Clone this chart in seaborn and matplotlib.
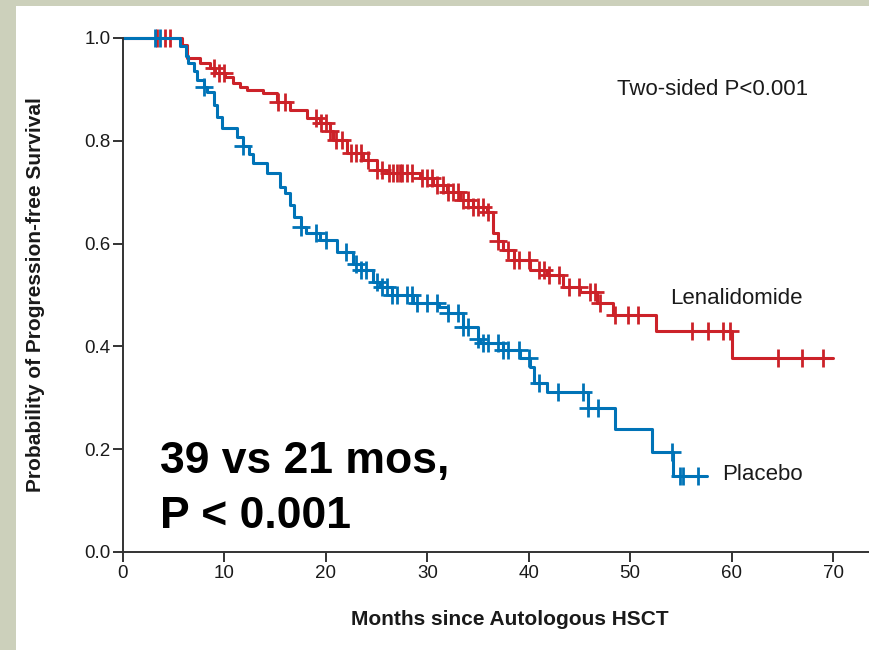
import numpy as np
import pandas as pd
import matplotlib
matplotlib.use("Agg")
import matplotlib.pyplot as plt
from matplotlib.patches import Rectangle
import seaborn as sns

# ---- data ----
len_t = [0, 5.8, 6.3, 7.6, 8.6, 9.1, 10.1, 10.8, 11.5, 12.2, 13.8, 15.2, 16.5, 18.1, 19.4,
         20.4, 20.7, 22.1, 23.7, 25.0, 26.0, 29.3, 30.6, 31.9, 33.2, 34.5, 35.9, 36.5, 37.0,
         37.5, 38.5, 40.1, 41.8, 43.4, 45.1, 46.7, 48.3, 52.5, 60.0]
len_s = [1.0, 0.986, 0.961, 0.951, 0.942, 0.932, 0.924, 0.912, 0.905, 0.899, 0.893, 0.875,
         0.860, 0.844, 0.835, 0.820, 0.802, 0.776, 0.763, 0.743, 0.737, 0.728, 0.714, 0.700,
         0.685, 0.671, 0.661, 0.621, 0.605, 0.588, 0.568, 0.549, 0.539, 0.516, 0.506, 0.484,
         0.461, 0.430, 0.377]
len_end = 70.0
len_cens = [3.4, 4.1, 4.6, 9.0, 9.5, 10.0, 15.3, 16.0, 19.0, 19.5, 20.0, 20.4, 21.0, 21.6,
            22.5, 23.0, 23.5, 24.2, 25.0, 25.5, 26.2, 26.6, 27.0, 27.3, 27.5, 28.0, 28.5,
            29.5, 30.0, 30.5, 31.0, 31.5, 32.0, 32.5, 33.0, 33.5, 34.0, 34.5, 35.0, 35.5,
            36.0, 37.0, 38.0, 38.5, 39.0, 40.0, 41.0, 41.5, 42.0, 43.0, 44.0, 45.0, 46.0,
            46.5, 47.0, 48.5, 49.8, 50.8, 56.1, 57.7, 59.2, 59.8, 64.6, 66.9, 69.0]

pla_t = [0, 5.6, 6.2, 6.4, 7.0, 7.3, 8.0, 8.3, 9.0, 9.3, 9.8, 11.2, 11.8, 12.4, 12.8, 14.2,
         15.5, 16.0, 16.5, 16.9, 17.5, 18.0, 19.4, 21.1, 22.7, 23.5, 24.6, 25.3, 26.5, 28.6,
         31.2, 32.0, 33.5, 35.0, 35.2, 37.5, 39.1, 40.1, 40.5, 41.8, 45.8, 48.5, 52.2, 54.2]
pla_s = [1.0, 0.985, 0.965, 0.951, 0.935, 0.918, 0.905, 0.895, 0.870, 0.846, 0.825, 0.807,
         0.790, 0.775, 0.757, 0.737, 0.710, 0.698, 0.675, 0.652, 0.632, 0.620, 0.607, 0.584,
         0.560, 0.548, 0.525, 0.516, 0.500, 0.484, 0.477, 0.465, 0.438, 0.415, 0.407, 0.393,
         0.377, 0.360, 0.329, 0.311, 0.280, 0.239, 0.195, 0.148]
pla_end = 57.6
pla_cens = [3.2, 3.6, 8.0, 11.8, 17.5, 19.0, 20.0, 22.0, 23.0, 23.5, 24.0, 25.0, 25.5, 26.0,
            26.5, 27.0, 28.0, 28.5, 29.0, 30.0, 31.0, 32.0, 33.0, 33.5, 34.0, 35.0, 35.5,
            36.0, 37.0, 37.5, 38.0, 39.0, 40.0, 41.0, 42.9, 45.4, 45.8, 46.8, 54.1, 54.9,
            55.2, 56.7]

x_ticks = [0, 10, 20, 30, 40, 50, 60, 70]
y_ticks = [0.0, 0.2, 0.4, 0.6, 0.8, 1.0]

RED = "#cc2229"
BLUE = "#0073b7"
TXT = "#1a1a1a"

sns.set_theme(style="ticks")
plt.rcParams["font.family"] = ["Liberation Sans", "DejaVu Sans"]

fig = plt.figure(figsize=(8.69, 6.5), dpi=100)
fig.patch.set_facecolor("#ccd0bb")
fig.patches.append(Rectangle((16 / 869, 0), 1, 1 - 6 / 650, transform=fig.transFigure,
                             facecolor="white", edgecolor="none", zorder=-1))

ax = fig.add_axes([123 / 869, 1 - 552 / 650, (869 - 123) / 869, (552 - 38) / 650])
ax.set_facecolor("none")


def steps(t, s, end):
    return pd.DataFrame({"t": list(t) + [end], "s": list(s) + [s[-1]]})


def cens_df(t, s, c):
    t = np.asarray(t)
    s = np.asarray(s)
    idx = np.searchsorted(t, c, side="right") - 1
    return pd.DataFrame({"t": c, "s": s[idx]})


for t, s, end, c, col in [(len_t, len_s, len_end, len_cens, RED),
                          (pla_t, pla_s, pla_end, pla_cens, BLUE)]:
    df = steps(t, s, end)
    sns.lineplot(data=df, x="t", y="s", ax=ax, color=col, lw=2.2, estimator=None,
                 sort=False, drawstyle="steps-post", clip_on=False)
    cd = cens_df(t, s, c)
    ax.plot(cd["t"], cd["s"], linestyle="none", marker="+", markersize=13,
            markeredgewidth=2.0, color=col, clip_on=False)

ax.set_xlim(0, (869 - 123) / 10.143)
ax.set_ylim(0, 1.0)
ax.set_xticks(x_ticks)
ax.set_xticklabels([str(v) for v in x_ticks])
ax.set_yticks(y_ticks)
ax.set_yticklabels([f"{v:.1f}" for v in y_ticks])
for sp in ["top", "right"]:
    ax.spines[sp].set_visible(False)
for sp in ["left", "bottom"]:
    ax.spines[sp].set_color("#333333")
    ax.spines[sp].set_linewidth(1.4)
ax.tick_params(axis="both", direction="out", length=7, width=1.4, color="#333333",
               labelsize=13.5, labelcolor=TXT, pad=2)

ax.set_xlabel("Months since Autologous HSCT", fontsize=15, fontweight="bold", color=TXT)
ax.set_ylabel("Probability of Progression-free Survival", fontsize=15,
              fontweight="bold", color=TXT)
ax.yaxis.set_label_coords((45 - 123) / 746, 0.5)
ax.xaxis.set_label_coords((510 - 123) / 746, -(610 - 552) / 514)

ax.text(48.7, 0.899, "Two-sided P<0.001", fontsize=16, color=TXT, va="center", ha="left")
ax.text(53.9, 0.494, "Lenalidomide", fontsize=16, color=TXT, va="center", ha="left")
ax.text(59.1, 0.150, "Placebo", fontsize=16, color=TXT, va="center", ha="left")
ax.text(3.6, (552 - 462) / 514, "39 vs 21 mos,", fontsize=32, fontweight="bold",
        color="black", va="center", ha="left")
ax.text(3.6, (552 - 517) / 514, "P < 0.001", fontsize=32, fontweight="bold",
        color="black", va="center", ha="left")

fig.savefig("out.png", dpi=100)
